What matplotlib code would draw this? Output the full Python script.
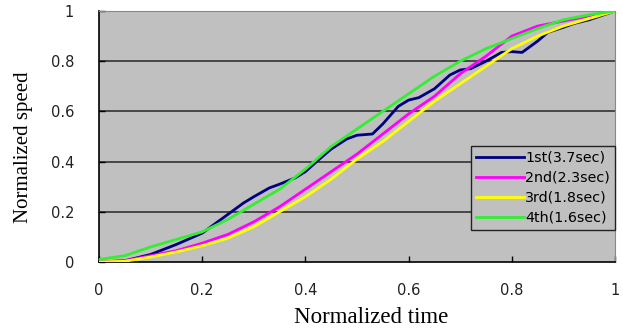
import numpy as np
import matplotlib
matplotlib.use("Agg")
import matplotlib.pyplot as plt

# DATA
labels = ["1st(3.7sec)", "2nd(2.3sec)", "3rd(1.8sec)", "4th(1.6sec)"]
colors = ["#000080", "#FF00FF", "#FFFF00", "#33EE33"]

x_1st = [0, 0.05, 0.1, 0.15, 0.2, 0.25, 0.28, 0.3, 0.33, 0.35, 0.38, 0.4, 0.43, 0.45,
         0.48, 0.5, 0.53, 0.55, 0.58, 0.6, 0.62, 0.65, 0.68, 0.7, 0.72, 0.75, 0.78,
         0.8, 0.82, 0.85, 0.87, 0.9, 0.92, 0.95, 1.0]
y_1st = [0, 0.005, 0.03, 0.07, 0.115, 0.19, 0.235, 0.26, 0.295, 0.31, 0.335, 0.36, 0.415,
         0.45, 0.49, 0.505, 0.51, 0.55, 0.62, 0.645, 0.655, 0.69, 0.745, 0.765, 0.77, 0.80,
         0.835, 0.838, 0.835, 0.88, 0.915, 0.935, 0.95, 0.965, 1.0]

x_2nd = [0, 0.05, 0.1, 0.15, 0.2, 0.25, 0.3, 0.35, 0.4, 0.45, 0.5, 0.55, 0.6, 0.65,
         0.7, 0.75, 0.8, 0.85, 0.9, 0.95, 1.0]
y_2nd = [0, 0.005, 0.025, 0.045, 0.075, 0.11, 0.16, 0.22, 0.29, 0.36, 0.43, 0.51, 0.59,
         0.66, 0.75, 0.82, 0.90, 0.94, 0.96, 0.98, 1.0]

x_3rd = [0, 0.05, 0.1, 0.15, 0.2, 0.25, 0.3, 0.35, 0.4, 0.45, 0.5, 0.55, 0.6, 0.65,
         0.7, 0.75, 0.8, 0.85, 0.9, 0.95, 1.0]
y_3rd = [0, 0.003, 0.02, 0.04, 0.065, 0.095, 0.14, 0.2, 0.26, 0.33, 0.41, 0.48, 0.56,
         0.64, 0.71, 0.78, 0.85, 0.9, 0.94, 0.97, 1.0]

x_4th = [0, 0.05, 0.1, 0.15, 0.2, 0.25, 0.3, 0.35, 0.4, 0.45, 0.5, 0.55, 0.6, 0.65,
         0.7, 0.75, 0.8, 0.85, 0.9, 0.95, 1.0]
y_4th = [0.01, 0.025, 0.06, 0.09, 0.12, 0.17, 0.23, 0.29, 0.37, 0.46, 0.53, 0.60, 0.67,
         0.74, 0.80, 0.85, 0.89, 0.93, 0.965, 0.985, 1.0]

xs = [x_1st, x_2nd, x_3rd, x_4th]
ys = [y_1st, y_2nd, y_3rd, y_4th]
ticks = [0, 0.2, 0.4, 0.6, 0.8, 1]
tick_labels = ["0", "0.2", "0.4", "0.6", "0.8", "1"]

# PLOT
fig = plt.figure(figsize=(6.23, 3.29), dpi=100)
fig.patch.set_facecolor("white")
ax = fig.add_axes([99 / 623, 1 - 262 / 329, 516 / 623, 251 / 329])
ax.set_facecolor("#C0C0C0")

# horizontal gridlines
for yv in ticks[1:-1]:
    ax.axhline(yv, color="#333333", lw=1.2, zorder=1)

for x, y, c, lab in zip(xs, ys, colors, labels):
    ax.plot(x, y, color=c, lw=2, label=lab, zorder=3)

ax.set_xlim(0, 1)
ax.set_ylim(0, 1)
ax.set_xticks(ticks)
ax.set_yticks(ticks)
ax.set_xticklabels(tick_labels, fontsize=10.5, family="DejaVu Sans", color="#222222")
ax.set_yticklabels(tick_labels, fontsize=10.5, family="DejaVu Sans", color="#222222")
ax.tick_params(axis="x", direction="in", length=4, width=1, pad=15)
ax.tick_params(axis="y", direction="in", length=4, width=1, pad=18)

ax.spines["left"].set_color("black")
ax.spines["bottom"].set_color("black")
ax.spines["left"].set_linewidth(1.2)
ax.spines["bottom"].set_linewidth(1.2)
ax.spines["top"].set_color("#888888")
ax.spines["right"].set_color("#888888")

ax.set_xlabel("Normalized time", fontsize=16.5, family="Liberation Serif", va="baseline")
ax.xaxis.set_label_coords(0.527, -0.243)
ax.set_ylabel("Normalized speed", fontsize=15, family="Liberation Serif")
ax.yaxis.set_label_coords(-0.128, 0.456)

leg = ax.legend(loc="lower right", bbox_to_anchor=(1.0, 0.1275), frameon=True,
                fancybox=False, facecolor="#C0C0C0", edgecolor="#222222",
                framealpha=1, fontsize=10.3, handlelength=3.3, handletextpad=0.1,
                labelspacing=0.42, borderpad=0.35, borderaxespad=0)
leg.get_frame().set_linewidth(1)
for t in leg.get_texts():
    t.set_family("DejaVu Sans")

fig.savefig("out.png", dpi=100)
